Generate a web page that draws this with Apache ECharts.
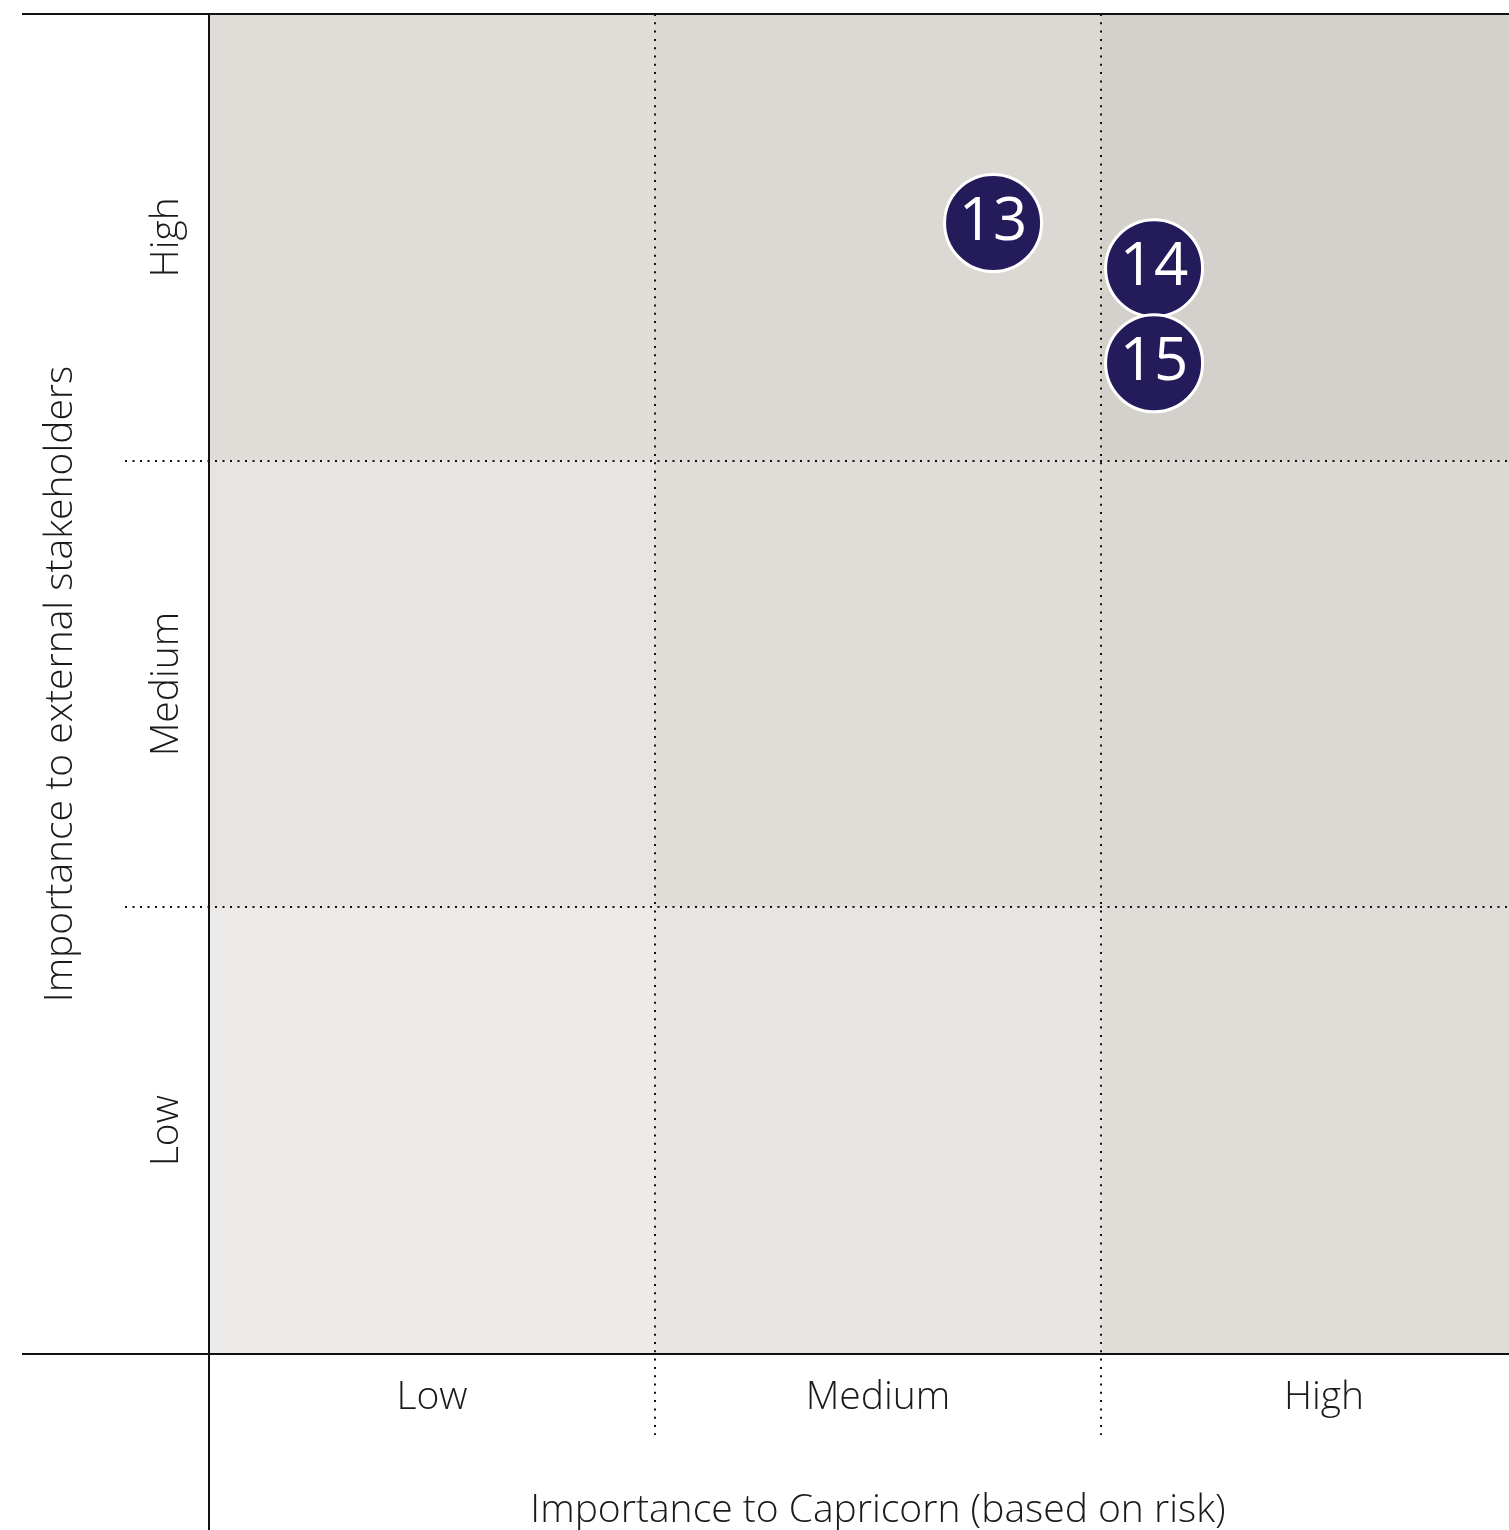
<!DOCTYPE html>
<html>
<head>
<meta charset="utf-8">
<script src="https://cdn.jsdelivr.net/npm/echarts@6/dist/echarts.min.js"></script>
<style>
  html, body { margin: 0; padding: 0; background: #ffffff; }
  #chart { width: 1509px; height: 1530px; }
</style>
</head>
<body>
<div id="chart"></div>
<script>
// Materiality matrix: three levels on each axis
const levelLabels = ['Low', 'Medium', 'High'];
const xAxisTitle = 'Importance to Capricorn (based on risk)';
const yAxisTitle = 'Importance to external stakeholders';

// Topics placed on the matrix (x = importance to Capricorn, y = importance to stakeholders)
const topicIds = ['13', '14', '15'];
const topicX = [1.758, 2.119, 2.119];
const topicY = [2.532, 2.431, 2.218];

// Cell grid (column, row) -> 3x3 background cells
const cellCols = [0, 1, 2];
const cellRows = [0, 1, 2];

// Background shade grows with combined importance (col + row)
const shadeByScore = ['#ecebe9', '#e7e4e1', '#e0ddd9', '#dcd8d4', '#d4d0cb'];

const cells = [];
cellRows.forEach(r => cellCols.forEach(c => cells.push([c, r])));

const topics = topicIds.map((id, i) => [topicX[i], topicY[i], id]);

const FONT = '"Open Sans", Lato, sans-serif';
const TEXT = '#1a1a1a';

const chart = echarts.init(document.getElementById('chart'), null, { renderer: 'canvas' });

function dottedLine(x1, y1, x2, y2, gap) {
  return {
    type: 'line',
    shape: { x1, y1, x2, y2 },
    style: { stroke: '#111', lineWidth: 2, lineDash: [2, gap], lineCap: 'butt' }
  };
}

function solidLine(x1, y1, x2, y2) {
  return {
    type: 'line',
    shape: { x1, y1, x2, y2 },
    style: { stroke: '#111', lineWidth: 2 }
  };
}

const levelFormatter = v => (Math.abs(v % 1 - 0.5) < 1e-6 ? levelLabels[Math.floor(v)] : '');

chart.setOption({
  animation: false,
  backgroundColor: '#ffffff',
  grid: { left: 209, top: 14, width: 1338, height: 1340, outerBoundsMode: 'none', containLabel: false },
  xAxis: {
    type: 'value', min: 0, max: 3, interval: 0.5,
    axisLine: { show: false }, axisTick: { show: false }, splitLine: { show: false },
    axisLabel: {
      margin: 24, fontFamily: FONT, fontWeight: 300, fontSize: 39, color: TEXT,
      formatter: levelFormatter
    },
    name: xAxisTitle, nameLocation: 'middle', nameGap: 137,
    nameTextStyle: { fontFamily: FONT, fontWeight: 300, fontSize: 39, color: TEXT }
  },
  yAxis: {
    type: 'value', min: 0, max: 3, interval: 0.5,
    axisLine: { show: false }, axisTick: { show: false }, splitLine: { show: false },
    axisLabel: {
      rotate: 90, margin: 23, fontFamily: FONT, fontWeight: 300, fontSize: 39, color: TEXT,
      formatter: levelFormatter
    },
    name: yAxisTitle, nameLocation: 'middle', nameGap: 129, nameRotate: 90,
    nameTextStyle: { fontFamily: FONT, fontWeight: 300, fontSize: 39, color: TEXT }
  },
  series: [
    {
      // background cells
      type: 'custom',
      data: cells,
      z: 1,
      renderItem: (params, api) => {
        const c = api.value(0), r = api.value(1);
        const p0 = api.coord([c, r + 1]);
        const p1 = api.coord([c + 1, r]);
        return {
          type: 'rect',
          shape: { x: p0[0], y: p0[1], width: p1[0] - p0[0], height: p1[1] - p0[1] },
          style: { fill: shadeByScore[c + r] }
        };
      }
    },
    {
      // frame and dotted level dividers
      type: 'custom',
      data: [[0]],
      z: 2,
      clip: false,
      silent: true,
      renderItem: (params, api) => {
        const W = api.getWidth(), H = api.getHeight();
        const topLeft = api.coord([0, 3]);
        const bottomLeft = api.coord([0, 0]);
        const xL = topLeft[0], yT = topLeft[1], yB = bottomLeft[1];
        const children = [];
        [1, 2].forEach(v => {
          const px = Math.round(api.coord([v, 0])[0]);
          children.push(dottedLine(px, yT, px, yB + 81, 6.3));
          const py = Math.round(api.coord([0, v])[1]);
          children.push(dottedLine(xL - 84, py, W, py, 5.5));
        });
        children.push(solidLine(xL - 187, yT, W, yT));
        children.push(solidLine(xL - 187, yB, W, yB));
        children.push(solidLine(xL, yT, xL, H));
        return { type: 'group', children };
      }
    },
    {
      type: 'scatter',
      data: topics,
      z: 5,
      symbol: 'circle',
      symbolSize: 97,
      itemStyle: { color: '#241b5b', borderColor: '#ffffff', borderWidth: 3, opacity: 1 },
      label: {
        show: true, position: 'inside',
        formatter: p => p.value[2],
        color: '#ffffff', fontFamily: FONT, fontSize: 60, fontWeight: 400
      }
    }
  ]
});
</script>
</body>
</html>
